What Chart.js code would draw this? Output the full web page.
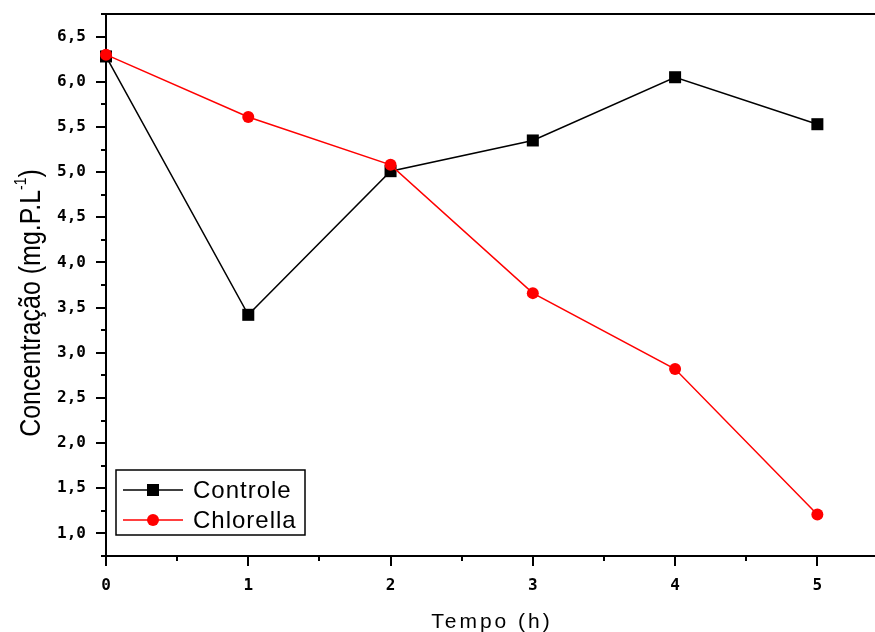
<!DOCTYPE html>
<html>
<head>
<meta charset="utf-8">
<title>Concentração</title>
<script src="https://cdn.jsdelivr.net/npm/chart.js@4.4.0/dist/chart.umd.min.js"></script>
<style>
  html, body { margin: 0; padding: 0; background: #fff; overflow: hidden; }
  canvas { display: block; }
</style>
</head>
<body>
<canvas id="myChart" width="897" height="632"></canvas>
<script>
// tempo (h) and phosphate concentration for both treatments
const tempo = [0, 1, 2, 3, 4, 5];
const controle = [6.28, 3.42, 5.01, 5.35, 6.05, 5.53];
const chlorella = [6.30, 5.61, 5.08, 3.66, 2.82, 1.21];
const xTicks = [0, 1, 2, 3, 4, 5];
const yTicks = [1.0, 1.5, 2.0, 2.5, 3.0, 3.5, 4.0, 4.5, 5.0, 5.5, 6.0, 6.5];

const ctx = document.getElementById('myChart').getContext('2d');

function toPoints(values){
    return values.map((v, i) => ({x: tempo[i], y: v}));
}

function commaLabel(value){
    return Number(value).toFixed(1).replace('.', ',');
}

function noPadding(scale){
    scale.paddingTop = 0;
    scale.paddingBottom = 0;
    scale.paddingLeft = 0;
    scale.paddingRight = 0;
}

// axis box and the major/minor tick marks
const framePlugin = {
    id: 'frame',
    beforeDatasetsDraw(chart){
        const {ctx, chartArea: a, scales: {x, y}} = chart;
        ctx.save();
        ctx.strokeStyle = '#000';
        ctx.lineWidth = 2;
        ctx.strokeRect(a.left, a.top, a.right - a.left, a.bottom - a.top);
        ctx.beginPath();
        for (let v = x.min; v <= x.max + 1e-9; v += 0.5){
            const px = Math.round(x.getPixelForValue(v));
            const len = Number.isInteger(v) ? 10 : 5;
            ctx.moveTo(px, a.bottom);
            ctx.lineTo(px, a.bottom + len);
        }
        for (let v = y.min; v <= y.max + 1e-9; v += 0.25){
            const py = Math.round(y.getPixelForValue(v));
            const major = Math.abs(v * 2 - Math.round(v * 2)) < 1e-9;
            ctx.moveTo(a.left, py);
            ctx.lineTo(a.left - (major ? 10 : 5), py);
        }
        ctx.stroke();
        ctx.restore();
    }
};

// boxed legend in the lower left corner of the plot
const legendPlugin = {
    id: 'boxLegend',
    afterDraw(chart){
        const {ctx, chartArea: a} = chart;
        const left = a.left + 10, top = a.bottom - 86;
        ctx.save();
        ctx.fillStyle = '#fff';
        ctx.fillRect(left, top, 189, 65);
        ctx.strokeStyle = '#000';
        ctx.lineWidth = 1.5;
        ctx.strokeRect(left, top, 189, 65);
        chart.data.datasets.slice().reverse().forEach((ds, i) => {
            const cy = top + 20 + i * 30;
            ctx.strokeStyle = ds.borderColor;
            ctx.lineWidth = 1.5;
            ctx.beginPath();
            ctx.moveTo(left + 7, cy);
            ctx.lineTo(left + 67, cy);
            ctx.stroke();
            ctx.fillStyle = ds.backgroundColor;
            const cx = left + 37;
            if (ds.pointStyle === 'rect'){
                ctx.fillRect(cx - 6, cy - 6, 12, 12);
            } else {
                ctx.beginPath();
                ctx.arc(cx, cy, 6, 0, Math.PI * 2);
                ctx.fill();
            }
            ctx.fillStyle = '#000';
            ctx.font = '24px "Liberation Sans", Arial, sans-serif';
            ctx.letterSpacing = '1px';
            ctx.textBaseline = 'middle';
            ctx.textAlign = 'left';
            ctx.fillText(ds.label, left + 77, cy + 1);
        });
        ctx.restore();
    }
};

// axis titles
const titlePlugin = {
    id: 'axisTitles',
    afterDraw(chart){
        const {ctx} = chart;
        ctx.save();
        ctx.fillStyle = '#000';
        ctx.font = '21px "Liberation Sans", Arial, sans-serif';
        ctx.letterSpacing = '3px';
        ctx.textAlign = 'center';
        ctx.textBaseline = 'alphabetic';
        ctx.fillText('Tempo (h)', 492, 628);
        ctx.restore();

        ctx.save();
        ctx.fillStyle = '#000';
        ctx.translate(40, 303);
        ctx.rotate(-Math.PI / 2);
        ctx.scale(1, 1.2);
        const big = '25px "Liberation Sans", Arial, sans-serif';
        const small = '14px "Liberation Sans", Arial, sans-serif';
        const p1 = 'Concentração (mg.P.L', sup = '-1', p3 = ')';
        ctx.font = big;
        const w1 = ctx.measureText(p1).width, w3 = ctx.measureText(p3).width;
        ctx.font = small;
        const ws = ctx.measureText(sup).width;
        const x0 = -(w1 + ws + w3) / 2;
        ctx.textAlign = 'left';
        ctx.font = big;
        ctx.fillText(p1, x0, 0);
        ctx.font = small;
        ctx.fillText(sup, x0 + w1, -12);
        ctx.font = big;
        ctx.fillText(p3, x0 + w1 + ws, 0);
        ctx.restore();
    }
};

const tickFont = {family: '"DejaVu Sans Mono", monospace', size: 16, weight: 'bold'};

const chart = new Chart(ctx, {
    type: 'line',
    data: {
        datasets: [{
            label: 'Chlorella',
            data: toPoints(chlorella),
            borderColor: '#ff0000',
            backgroundColor: '#ff0000',
            borderWidth: 1.5,
            pointStyle: 'circle',
            pointRadius: 6,
            pointBorderWidth: 0,
            order: 0,
            clip: false
        }, {
            label: 'Controle',
            data: toPoints(controle),
            borderColor: '#000000',
            backgroundColor: '#000000',
            borderWidth: 1.5,
            pointStyle: 'rect',
            pointRadius: 8.5,
            pointBorderWidth: 0,
            order: 1,
            clip: false
        }]
    },
    options: {
        responsive: false,
        animation: false,
        layout: {padding: {top: 14, right: 0, left: 0, bottom: 0}},
        plugins: {legend: {display: false}, tooltip: {enabled: false}},
        scales: {
            x: {
                type: 'linear',
                min: 0,
                max: 5.5,
                afterBuildTicks: (scale) => { scale.ticks = xTicks.map(v => ({value: v})); },
                afterFit: (scale) => { scale.height = 76; noPadding(scale); },
                grid: {display: false, drawTicks: false},
                border: {display: false},
                ticks: {color: '#000', font: tickFont, padding: 20, maxRotation: 0}
            },
            y: {
                min: 0.75,
                max: 6.75,
                afterBuildTicks: (scale) => { scale.ticks = yTicks.map(v => ({value: v})); },
                afterFit: (scale) => { scale.width = 106; noPadding(scale); },
                grid: {display: false, drawTicks: false},
                border: {display: false},
                ticks: {color: '#000', font: tickFont, padding: 20, callback: commaLabel}
            }
        }
    },
    plugins: [framePlugin, legendPlugin, titlePlugin]
});
</script>
</body>
</html>
